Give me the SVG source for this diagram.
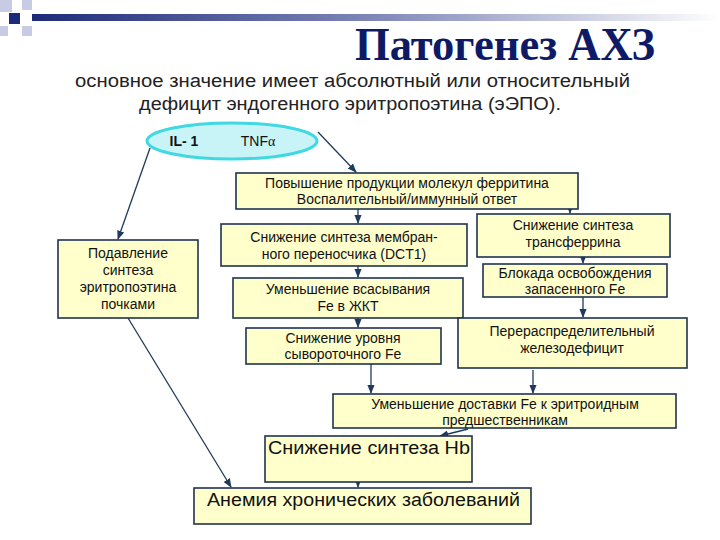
<svg xmlns="http://www.w3.org/2000/svg" width="720" height="540" viewBox="0 0 720 540">
<defs>
<linearGradient id="g" x1="0" x2="1"><stop offset="0" stop-color="#1c2a7a"/><stop offset="0.5" stop-color="#8088b8"/><stop offset="1" stop-color="#ffffff"/></linearGradient>
<marker id="a" viewBox="0 0 10 10" refX="9" refY="5" markerWidth="7" markerHeight="7" orient="auto"><path d="M0,1 L10,5 L0,9 z" fill="#1f3a5a"/></marker>
<style>
.b{fill:#ffffcc;stroke:#1f3350;stroke-width:1.6}
.t{font-family:"Liberation Sans",Arial,sans-serif;font-size:14px;fill:#111;text-anchor:middle}
.c line{stroke:#1f3a5a;stroke-width:1.3;marker-end:url(#a)}
</style>
</defs>
<rect width="720" height="540" fill="#fff"/>
<rect x="0" y="0" width="12" height="12" fill="#c8cbe4"/>
<rect x="22" y="0" width="10" height="10" fill="#c8cbe4"/>
<rect x="9" y="13" width="11" height="11" fill="#1c2a7a"/>
<rect x="0" y="26" width="8" height="10" fill="#c8cbe4"/>
<rect x="22" y="26" width="10" height="10" fill="#c8cbe4"/>
<rect x="32" y="14" width="688" height="7" fill="url(#g)"/>
<text x="355" y="60" font-family="Liberation Serif,serif" font-weight="bold" font-size="46" fill="#0e1a66" textLength="300" lengthAdjust="spacingAndGlyphs">Патогенез АХЗ</text>
<text x="75" y="87" font-family="Liberation Sans,sans-serif" font-size="18" fill="#222" textLength="555" lengthAdjust="spacingAndGlyphs">основное значение имеет абсолютный или относительный</text>
<text x="139" y="110" font-family="Liberation Sans,sans-serif" font-size="18" fill="#222" textLength="422" lengthAdjust="spacingAndGlyphs">дефицит эндогенного эритропоэтина (эЭПО).</text>
<g class="c">
<line x1="150" y1="148" x2="118" y2="239"/>
<line x1="318" y1="132" x2="356" y2="172"/>
<line x1="358" y1="209" x2="358" y2="223"/>
<line x1="570" y1="205" x2="570" y2="213"/>
<line x1="358" y1="266" x2="358" y2="277"/>
<line x1="583" y1="257" x2="583" y2="263"/>
<line x1="583" y1="297" x2="583" y2="317"/>
<line x1="358" y1="318" x2="358" y2="327"/>
<line x1="371" y1="364" x2="371" y2="393"/>
<line x1="533" y1="370" x2="533" y2="393"/>
<line x1="468" y1="429" x2="440" y2="436"/>
<line x1="358" y1="470" x2="358" y2="487"/>
<line x1="128" y1="318" x2="231" y2="487"/>
</g>
<g id="cyt"><ellipse cx="232" cy="141" rx="85" ry="18" fill="#c8f4f8" stroke="#40d8e2" stroke-width="3"/><text x="184" y="146" class="t" style="font-weight:bold">IL- 1</text><text x="258" y="146" class="t">TNF<tspan font-family="Liberation Serif,serif">α</tspan></text></g>
<g id="n1"><rect class="b" x="236" y="173" width="342" height="36"/><text x="407" y="188" class="t">Повышение продукции молекул ферритина</text><text x="407" y="204" class="t">Воспалительный/иммунный ответ</text></g>
<g id="n2"><rect class="b" x="58" y="240" width="140" height="78"/><text x="128" y="258" class="t">Подавление</text><text x="128" y="275" class="t">синтеза</text><text x="128" y="292" class="t">эритропоэтина</text><text x="128" y="309" class="t">почками</text></g>
<g id="n3"><rect class="b" x="221" y="224" width="246" height="42"/><text x="344" y="242" class="t">Снижение синтеза мембран-</text><text x="344" y="259" class="t">ного переносчика (DCT1)</text></g>
<g id="n4"><rect class="b" x="477" y="214" width="193" height="43"/><text x="573" y="230" class="t">Снижение  синтеза</text><text x="573" y="247" class="t">трансферрина</text></g>
<g id="n5"><rect class="b" x="483" y="264" width="184" height="33"/><text x="575" y="278" class="t">Блокада освобождения</text><text x="575" y="294" class="t">запасенного Fe</text></g>
<g id="n6"><rect class="b" x="233" y="278" width="230" height="40"/><text x="348" y="294" class="t">Уменьшение всасывания</text><text x="348" y="311" class="t">Fe в ЖКТ</text></g>
<g id="n7"><rect class="b" x="246" y="328" width="195" height="36"/><text x="343" y="343" class="t">Снижение уровня</text><text x="343" y="359" class="t">сывороточного Fe</text></g>
<g id="n8"><rect class="b" x="458" y="318" width="229" height="50"/><text x="572" y="336" class="t">Перераспределительный</text><text x="572" y="353" class="t">железодефицит</text></g>
<g id="n9"><rect class="b" x="333" y="394" width="343" height="34"/><text x="505" y="409" class="t">Уменьшение доставки Fe к эритроидным</text><text x="505" y="425" class="t">предшественникам</text></g>
<g id="n10"><rect class="b" x="265" y="436" width="207" height="46"/><text x="268" y="454" class="t" style="font-size:18px;text-anchor:start" textLength="202" lengthAdjust="spacingAndGlyphs">Снижение синтеза  Hb</text></g>
<g id="n11"><rect class="b" x="194" y="488" width="337" height="36"/><text x="207" y="506" class="t" style="font-size:18px;text-anchor:start" textLength="313" lengthAdjust="spacingAndGlyphs">Анемия хронических  заболеваний</text></g>
</svg>
